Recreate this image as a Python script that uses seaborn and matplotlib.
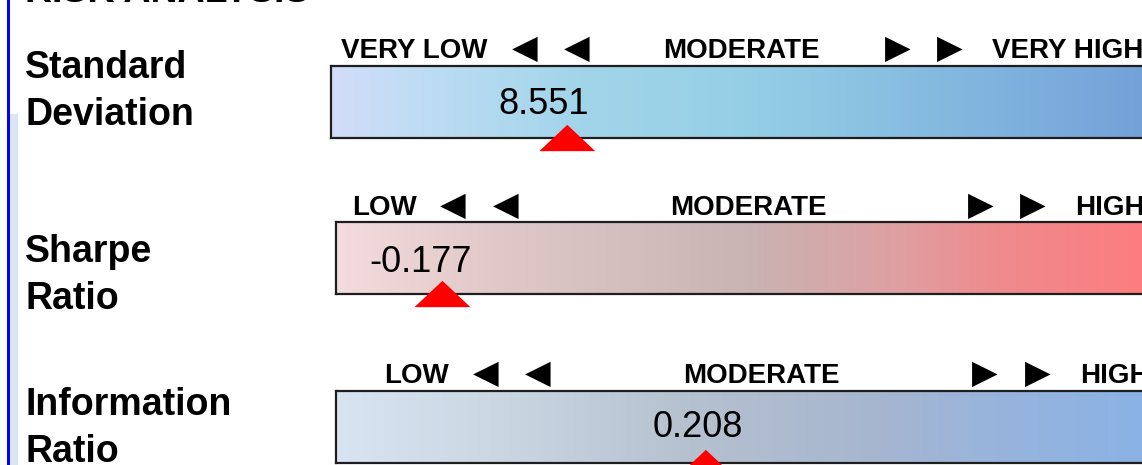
import numpy as np
import matplotlib
matplotlib.use("Agg")
import matplotlib.pyplot as plt
import seaborn as sns
from matplotlib.colors import LinearSegmentedColormap

# ====================================
# Data
# ====================================
title = "RISK ANALYSIS"
metrics = ["Standard\nDeviation", "Sharpe\nRatio", "Information\nRatio"]
values = [8.551, -0.177, 0.208]
scale_lo = [0.0, -0.5, -0.6]
scale_hi = [30.0, 2.0, 1.2]
low_words = ["VERY LOW", "LOW", "LOW"]
mid_words = ["MODERATE", "MODERATE", "MODERATE"]
high_words = ["VERY HIGH", "HIGH", "HIGH"]

# gradient stops for each gauge (position, colour)
gradients = [
    [(0, "#d2dcf9"), (0.12, "#bcdcf3"), (0.3, "#a2d5ea"), (0.5, "#95cfe6"), (0.72, "#86bbe0"), (1, "#72a0d9")],
    [(0, "#f4dcde"), (0.2, "#e0c8c8"), (0.5, "#c9b3b3"), (0.68, "#dfa0a2"), (0.8, "#ee8b8d"), (1, "#ff7b7e")],
    [(0, "#d9e4f2"), (0.2, "#cbd6e3"), (0.44, "#b5c0cf"), (0.66, "#a6b6d0"), (0.8, "#98b4dc"), (1, "#89b2e6")],
]

# ====================================
# Layout (pixels of a 1142x465 canvas)
# ====================================
W, H = 1142, 465
bar_left = [331, 336, 336]
bar_top = [66, 222, 391]
bar_h = 72
bar_right = 1160
head_base = [58, 215, 383]
low_x = [414, 385, 417]
larrow_x = [[525, 577], [453, 506], [486, 538]]
mid_x = [741, 748, 761]
rarrow_x = [[898, 950], [981, 1033], [985, 1038]]
high_x = [992, 1075, 1080]
label_base = [78, 262, 415]
label_step = 47
val_dx = [-24, -22, -8]
val_dy = [34, 31, 36]


def fx(x):
    return x / W


def fy(y):
    return 1 - y / H


sns.set_theme(style="white")
plt.rcParams['font.family'] = ['Liberation Sans', 'DejaVu Sans']
plt.rcParams['text.color'] = 'black'

fig = plt.figure(figsize=(W / 100, H / 100), dpi=100)

# frame decorations on the left
fig.add_artist(plt.Rectangle((fx(10), 0), fx(8), fy(114), transform=fig.transFigure,
                             facecolor="#dce6f2", edgecolor="none"))
fig.add_artist(plt.Rectangle((fx(7), 0), fx(3), 1, transform=fig.transFigure,
                             facecolor="#0000ff", edgecolor="none"))

# title sits mostly above the visible area
fig.text(fx(25), fy(1.5), title, fontsize=27, fontweight="bold", va="baseline", ha="left")

tri = [(0, 0.47), (-1, -0.47), (1, -0.47)]

for i in range(3):
    ax = fig.add_axes([fx(bar_left[i]), fy(bar_top[i] + bar_h),
                       fx(bar_right - bar_left[i]), bar_h / H])
    cmap = LinearSegmentedColormap.from_list(f"g{i}", gradients[i])
    grad = np.linspace(0, 1, 256).reshape(1, -1)
    ax.imshow(grad, cmap=cmap, aspect="auto",
              extent=[scale_lo[i], scale_hi[i], 0, 1], zorder=0)
    ax.set_xticks([])
    ax.set_yticks([])
    ax.grid(False)
    for s in ax.spines.values():
        s.set_visible(True)
        s.set_color("#1e1e1e")
        s.set_linewidth(1.6)

    sns.scatterplot(x=[values[i]], y=[0], marker=tri, s=1625, color="#ff0000",
                    edgecolor="none", linewidth=0, ax=ax, clip_on=False, zorder=10,
                    legend=False)
    ax.set_xlim(scale_lo[i], scale_hi[i])
    ax.set_ylim(0, 1)
    ax.set_xlabel("")
    ax.set_ylabel("")

    ax.annotate(f"{values[i]:.3f}", xy=(values[i], 0), xycoords="data",
                xytext=(val_dx[i] * 0.72, val_dy[i] * 0.72), textcoords="offset points",
                ha="center", va="center", fontsize=26, color="black")

    # header row
    yb = fy(head_base[i])
    yc = fy(head_base[i] - 10)
    fig.text(fx(low_x[i]), yb, low_words[i], ha="center", va="baseline",
             fontsize=20, fontweight="bold")
    fig.text(fx(mid_x[i]), yb, mid_words[i], ha="center", va="baseline",
             fontsize=20, fontweight="bold")
    fig.text(fx(high_x[i]), yb, high_words[i], ha="left", va="baseline",
             fontsize=20, fontweight="bold")
    for xa in larrow_x[i]:
        fig.text(fx(xa), yc, "\u25C0", ha="center", va="center", fontsize=24,
                 family=["DejaVu Sans"])
    for xa in rarrow_x[i]:
        fig.text(fx(xa), yc, "\u25B6", ha="center", va="center", fontsize=24,
                 family=["DejaVu Sans"])

    # metric name on the left
    for k, line in enumerate(metrics[i].split("\n")):
        fig.text(fx(25), fy(label_base[i] + k * label_step), line, ha="left",
                 va="baseline", fontsize=27, fontweight="bold")

fig.savefig("out.png", dpi=100)
